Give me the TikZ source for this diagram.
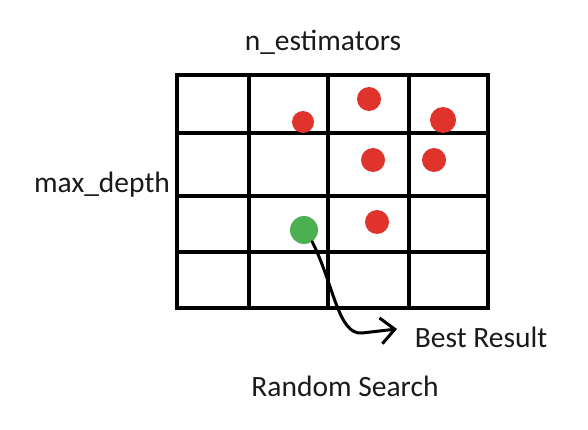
\documentclass[tikz,border=0pt]{standalone}
\usepackage{fontspec}
\setmainfont{Carlito}
\usetikzlibrary{arrows.meta}
\definecolor{dotred}{HTML}{E0332C}
\definecolor{dotgreen}{HTML}{4CAF50}
\definecolor{txt}{HTML}{1A1A1A}
\begin{document}
\begin{tikzpicture}[x=1pt,y=-1pt,
  gridline/.style={line width=4pt,black},
  rdot/.style={circle,fill=dotred,inner sep=0pt,minimum size=#1},
  gdot/.style={circle,fill=dotgreen,inner sep=0pt,minimum size=#1},
  lbl/.style={font=\fontsize{29.5}{33}\selectfont,text=txt,inner sep=0pt,anchor=base}]
\useasboundingbox[fill=white] (0,0) rectangle (588,430);
% grid
\draw[gridline] (177,75) rectangle (488,308);
\foreach \x in {249,328,409} \draw[gridline] (\x,75) -- (\x,308);
\foreach \y in {133,196,252} \draw[gridline] (177,\y) -- (488,\y);
% dots
\node[rdot=22pt] (r1) at (303,122) {};
\node[rdot=24pt] (r2) at (369,99) {};
\node[rdot=26pt] (r3) at (443,120) {};
\node[rdot=24pt] (r4) at (373,160) {};
\node[rdot=24pt] (r5) at (434,160) {};
\node[rdot=24pt] (r6) at (377,222) {};
\node[gdot=28pt] (g) at (304,230) {};
% labels
\node[lbl] (ne) at (323,51) {n\_estimators};
\node[lbl] (md) at (102,193) {max\_depth};
\node[lbl] (br) at (481,347) {Best Result};
\node[lbl] (rs) at (345,396) {Random Search};
\coordinate (tip) at (397,329);
% arrow
\draw[line width=3pt,line cap=round,-{Straight Barb[length=14pt,width=26pt,line width=3pt]}]
  (g.-55) .. controls (334,285) and (338,335) .. (362,333) -- (tip);
\end{tikzpicture}
\end{document}
